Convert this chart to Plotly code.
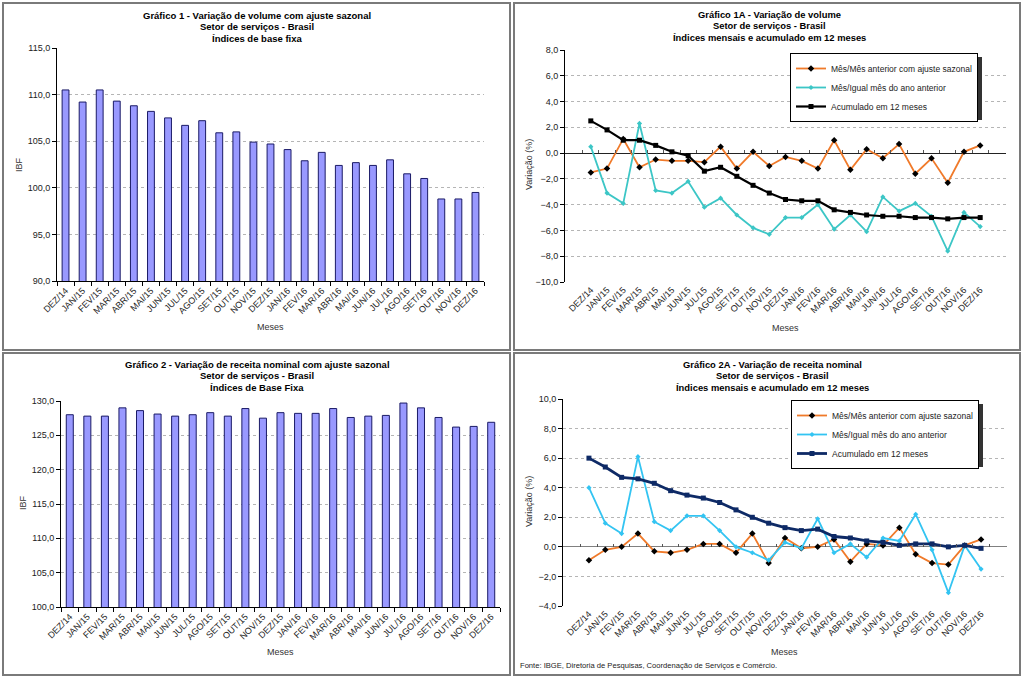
import plotly.graph_objects as go

W, H = 1024, 679

months = ["DEZ/14", "JAN/15", "FEV/15", "MAR/15", "ABR/15", "MAI/15", "JUN/15", "JUL/15",
          "AGO/15", "SET/15", "OUT/15", "NOV/15", "DEZ/15", "JAN/16", "FEV/16", "MAR/16",
          "ABR/16", "MAI/16", "JUN/16", "JUL/16", "AGO/16", "SET/16", "OUT/16", "NOV/16", "DEZ/16"]

# Gráfico 1 - volume, índices de base fixa
ibf_volume = [110.5, 109.2, 110.5, 109.3, 108.8, 108.2, 107.5, 106.7, 107.2, 105.9, 106.0, 104.9,
              104.7, 104.1, 102.9, 103.8, 102.4, 102.7, 102.4, 103.0, 101.5, 101.0, 98.8, 98.8, 99.5]
# Gráfico 2 - receita nominal, índices de base fixa
ibf_receita = [128.0, 127.8, 127.8, 129.0, 128.6, 128.1, 127.8, 128.0, 128.3, 127.8, 128.9, 127.5,
               128.3, 128.2, 128.2, 128.9, 127.6, 127.8, 127.9, 129.7, 129.0, 127.6, 126.2, 126.3, 126.9]
# Gráfico 1A - volume (%)
vol_mm = [-1.5, -1.2, 1.1, -1.1, -0.5, -0.6, -0.6, -0.7, 0.5, -1.2, 0.1, -1.0, -0.3, -0.6, -1.2,
          1.0, -1.3, 0.3, -0.4, 0.7, -1.6, -0.4, -2.3, 0.1, 0.6]
vol_yoy = [0.5, -3.1, -3.9, 2.3, -2.9, -3.1, -2.2, -4.2, -3.5, -4.8, -5.8, -6.3, -5.0, -5.0, -4.0,
           -5.9, -4.8, -6.1, -3.4, -4.5, -3.9, -4.9, -7.6, -4.6, -5.7]
vol_acc = [2.5, 1.8, 1.0, 1.0, 0.6, 0.1, -0.2, -1.4, -1.1, -1.8, -2.5, -3.1, -3.6, -3.7, -3.7,
           -4.4, -4.6, -4.8, -4.9, -4.9, -5.0, -5.0, -5.1, -5.0, -5.0]
# Gráfico 2A - receita nominal (%)
rec_mm = [-0.9, -0.2, 0.0, 0.9, -0.3, -0.4, -0.2, 0.2, 0.2, -0.4, 0.9, -1.1, 0.6, -0.1, 0.0,
          0.5, -1.0, 0.2, 0.1, 1.3, -0.5, -1.1, -1.2, 0.1, 0.5]
rec_yoy = [4.0, 1.6, 0.9, 6.1, 1.7, 1.1, 2.1, 2.1, 1.1, 0.0, -0.4, -0.9, 0.3, -0.1, 1.9,
           -0.4, 0.2, -0.7, 0.6, 0.4, 2.2, -0.2, -3.1, 0.1, -1.5]
rec_acc = [6.0, 5.4, 4.7, 4.6, 4.3, 3.8, 3.5, 3.3, 3.0, 2.5, 2.0, 1.6, 1.3, 1.1, 1.2,
           0.7, 0.6, 0.4, 0.3, 0.1, 0.2, 0.2, 0.0, 0.1, -0.1]

series_names = ["Mês/Mês anterior com ajuste sazonal", "Mês/Igual mês do ano anterior",
                "Acumulado em 12 meses"]

title_1 = ["Gráfico 1 - Variação de volume com ajuste sazonal", "Setor de serviços - Brasil",
           "Índices de base fixa"]
title_1a = ["Gráfico 1A - Variação de volume", "Setor de serviços - Brasil",
            "Índices mensais e acumulado em 12 meses"]
title_2 = ["Gráfico 2 - Variação de receita nominal com ajuste sazonal", "Setor de serviços - Brasil",
           "Índices de Base Fixa"]
title_2a = ["Gráfico 2A - Variação de receita nominal", "Setor de serviços - Brasil",
            "Índices mensais e acumulado em 12 meses"]

FONT = "Arial, Liberation Sans, sans-serif"


def fx(p):
    return p / W


def fy(p):
    return 1 - p / H


fig = go.Figure()

BAR_MARKER = dict(color="#9999FF", line=dict(color="#1a1a66", width=1))

# ---- bars
fig.add_trace(go.Bar(x=months, y=ibf_volume, xaxis="x", yaxis="y", marker=BAR_MARKER,
                     showlegend=False))
fig.add_trace(go.Bar(x=months, y=ibf_receita, xaxis="x3", yaxis="y3", marker=BAR_MARKER,
                     showlegend=False))

ORANGE = "#F07A2A"
TEAL = "#3CC6C6"
SKY = "#33C4F2"
NAVY = "#0E2A66"

# ---- line chart 1A
fig.add_trace(go.Scatter(x=months, y=vol_mm, xaxis="x2", yaxis="y2", mode="lines+markers",
                         name=series_names[0], legend="legend",
                         line=dict(color=ORANGE, width=1.8),
                         marker=dict(symbol="diamond", size=5, color="black")))
fig.add_trace(go.Scatter(x=months, y=vol_yoy, xaxis="x2", yaxis="y2", mode="lines+markers",
                         name=series_names[1], legend="legend",
                         line=dict(color=TEAL, width=1.8),
                         marker=dict(symbol="diamond", size=4, color=TEAL)))
fig.add_trace(go.Scatter(x=months, y=vol_acc, xaxis="x2", yaxis="y2", mode="lines+markers",
                         name=series_names[2], legend="legend",
                         line=dict(color="black", width=2.2),
                         marker=dict(symbol="square", size=5, color="black")))

# ---- line chart 2A
fig.add_trace(go.Scatter(x=months, y=rec_mm, xaxis="x4", yaxis="y4", mode="lines+markers",
                         name=series_names[0], legend="legend2",
                         line=dict(color=ORANGE, width=1.8),
                         marker=dict(symbol="diamond", size=5, color="black")))
fig.add_trace(go.Scatter(x=months, y=rec_yoy, xaxis="x4", yaxis="y4", mode="lines+markers",
                         name=series_names[1], legend="legend2",
                         line=dict(color=SKY, width=1.8),
                         marker=dict(symbol="diamond", size=4, color=SKY)))
fig.add_trace(go.Scatter(x=months, y=rec_acc, xaxis="x4", yaxis="y4", mode="lines+markers",
                         name=series_names[2], legend="legend2",
                         line=dict(color=NAVY, width=2.8),
                         marker=dict(symbol="square", size=5, color=NAVY)))

# invisible helper traces for tick marks along the zero line
fig.add_trace(go.Scatter(x=months, y=vol_acc, xaxis="x5", yaxis="y2", mode="markers",
                         opacity=0, showlegend=False, hoverinfo="skip"))
fig.add_trace(go.Scatter(x=months, y=rec_acc, xaxis="x6", yaxis="y4", mode="markers",
                         opacity=0, showlegend=False, hoverinfo="skip"))

# ---- geometry (pixels)
geo = {
    "1": dict(x0=57, x1=484, y0=48, y1=281, rng=[90, 115], dtick=5),
    "3": dict(x0=61, x1=500, y0=401, y1=607, rng=[100, 130], dtick=5),
    "2": dict(x0=565, x1=1006, y0=50, y1=282, rng=[-10, 8], dtick=2),
    "4": dict(x0=563, x1=1007, y0=399, y1=606, rng=[-4, 10], dtick=2),
}

tickfont = dict(family=FONT, size=9, color="#222222")

layout_axes = {}
for k, g in geo.items():
    xname = "xaxis" if k == "1" else "xaxis" + k
    yname = "yaxis" if k == "1" else "yaxis" + k
    yref = "y" if k == "1" else "y" + k
    xref = "x" if k == "1" else "x" + k
    is_bar = k in ("1", "3")
    layout_axes[xname] = dict(
        domain=[fx(g["x0"]), fx(g["x1"])], anchor=yref, type="category",
        categoryorder="array", categoryarray=months, automargin=False,
        tickangle=-45, tickfont=tickfont, showgrid=False, zeroline=False,
        showline=is_bar, linecolor="black", linewidth=1,
        ticks="outside" if is_bar else "", ticklen=4, tickcolor="black",
        tickson="boundaries" if is_bar else "labels",
    )
    layout_axes[yname] = dict(
        domain=[fy(g["y1"]), fy(g["y0"])], anchor=xref, range=g["rng"], dtick=g["dtick"],
        tick0=0, tickformat=".1f", tickfont=tickfont, showline=True, linecolor="black",
        linewidth=1, ticks="outside", ticklen=4, tickcolor="black", automargin=False,
        showgrid=True, gridcolor="#b5b5b5", griddash="dot", gridwidth=1,
        zeroline=not is_bar, zerolinecolor="#222222" if k == "2" else "#808080",
        zerolinewidth=1,
    )


def zero_pos(g):
    lo, hi = g["rng"]
    frac = (0 - lo) / (hi - lo)
    return fy(g["y1"]) + frac * (fy(g["y0"]) - fy(g["y1"]))


for k, src in (("5", "2"), ("6", "4")):
    g = geo[src]
    layout_axes["xaxis" + k] = dict(
        overlaying="x" + src, matches="x" + src, anchor="free", position=zero_pos(g),
        domain=[fx(g["x0"]), fx(g["x1"])], type="category", automargin=False,
        categoryorder="array", categoryarray=months,
        showticklabels=False, showgrid=False, zeroline=False, showline=False,
        ticks="inside", ticklen=3, tickcolor="#555555", tickson="boundaries",
    )

# ---- panel borders
panels = [(3, 3, 510, 350), (514, 3, 1020, 350), (3, 353, 510, 675), (514, 353, 1020, 675)]
shapes = []
for (a, b, c, d) in panels:
    shapes.append(dict(type="rect", xref="paper", yref="paper", x0=fx(a), x1=fx(c),
                       y0=fy(d), y1=fy(b), line=dict(color="#7a7a7a", width=2),
                       fillcolor="rgba(0,0,0,0)", layer="below"))

# legends: top-left pixel corner and estimated box size (for the drop shadow)
LEG1 = (790, 53)
LEG2 = (791, 400)
LEG_W, LEG_H = 188, 63
SH = 4
for (a, b) in (LEG1, LEG2):
    shapes.append(dict(type="rect", xref="paper", yref="paper", x0=fx(a + SH), x1=fx(a + LEG_W + SH),
                       y0=fy(b + LEG_H + SH), y1=fy(b + SH), line=dict(width=0),
                       fillcolor="#333333", layer="above"))

# ---- annotations
ann = []
for (cx, y_first, lines, fs) in [(257, 15, title_1, 9.5), (769, 14, title_1a, 9.4),
                                 (257, 364, title_2, 9.5), (772, 364, title_2a, 9.4)]:
    for i, t in enumerate(lines):
        ann.append(dict(xref="paper", yref="paper", x=fx(cx), y=fy(y_first + 11.8 * i),
                        xanchor="center", yanchor="middle", showarrow=False,
                        text="<b>" + t + "</b>",
                        font=dict(family=FONT, size=fs, color="black")))

ytitles = [(19, 165, "IBF"), (23, 503, "IBF"), (529, 165, "Variação (%)"), (529, 502, "Variação (%)")]
for (x, y, t) in ytitles:
    ann.append(dict(xref="paper", yref="paper", x=fx(x), y=fy(y), xanchor="center",
                    yanchor="middle", showarrow=False, text=t, textangle=-90,
                    font=dict(family=FONT, size=9, color="#333333")))

xtitles = [(270, 327), (785, 328), (280, 652), (784, 652)]
for (x, y) in xtitles:
    ann.append(dict(xref="paper", yref="paper", x=fx(x), y=fy(y), xanchor="center",
                    yanchor="middle", showarrow=False, text="Meses",
                    font=dict(family=FONT, size=9, color="#333333")))

ann.append(dict(xref="paper", yref="paper", x=fx(518), y=fy(665), xanchor="left",
                yanchor="middle", showarrow=False,
                text="Fonte: IBGE, Diretoria de Pesquisas, Coordenação de Serviços e Comércio.",
                font=dict(family=FONT, size=7.6, color="#222222")))

legend_style = dict(bgcolor="white", bordercolor="black", borderwidth=1,
                    font=dict(family=FONT, size=8.5, color="#222222"),
                    xanchor="left", yanchor="top", tracegroupgap=0, itemwidth=30)

fig.update_layout(
    width=W, height=H, autosize=False,
    margin=dict(l=0, r=0, t=0, b=0, pad=0, autoexpand=False),
    paper_bgcolor="white", plot_bgcolor="white",
    separators=",.",
    font=dict(family=FONT, size=9),
    bargap=0.6,
    shapes=shapes, annotations=ann,
    legend=dict(x=fx(LEG1[0]), y=fy(LEG1[1]), **legend_style),
    legend2=dict(x=fx(LEG2[0]), y=fy(LEG2[1]), **legend_style),
    **layout_axes,
)

fig.write_html(
    "out.html",
    config={"displayModeBar": False},
    post_script="document.body.style.margin='0px';document.body.style.overflow='hidden';",
)
